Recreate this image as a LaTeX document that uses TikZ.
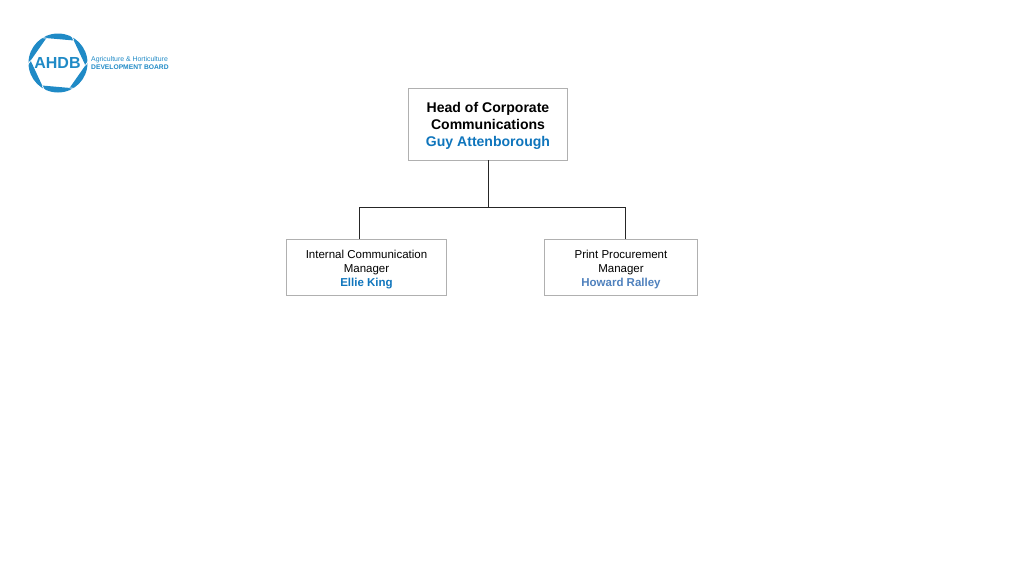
\documentclass[tikz,border=0pt]{standalone}
\usepackage{fontspec}
\usetikzlibrary{calc}
\setmainfont{Liberation Sans}
\definecolor{ahdbblue}{HTML}{0F75BC}
\definecolor{logoblue}{HTML}{1F8AC6}
\definecolor{ralleyblue}{HTML}{4F81BD}
\definecolor{boxgrey}{HTML}{B0B0B0}
\newcommand{\dropline}[1]{\rule{0pt}{#1}}
\tikzset{
  headbox/.style={draw=boxgrey,line width=0.9pt,minimum width=159.5pt,minimum height=72pt,inner sep=0,align=center,font=\fontsize{14.05}{17.1}\selectfont\bfseries},
  staffbox/.style={draw=boxgrey,line width=0.9pt,minimum height=56.5pt,inner sep=0,align=center,font=\fontsize{11.5}{13.8}\selectfont},
  link/.style={draw=black!85,line width=1pt}
}
\begin{document}
\begin{tikzpicture}[x=1pt,y=-1pt]
  \useasboundingbox (0,0) rectangle (1024,576);

  % logo
  \begin{scope}[shift={(58,63)}]
    \fill[logoblue,even odd rule] (0,0) circle (29.5)
      (5:27.5) -- (65:27.5) -- (125:27.5) -- (185:27.5) -- (245:27.5) -- (305:27.5) -- cycle;
    \foreach \a in {5,65,125,185,245,305}
      \draw[white,line width=0.8pt] (\a:27.5) -- ($(\a:27.5)!-0.6!(\a+60:27.5)$);
  \end{scope}
  \node[text=logoblue,inner sep=0,font=\fontsize{16}{16}\selectfont\bfseries] (logoname) at (57.5,63) {AHDB};
  \node[text=logoblue,anchor=west,inner sep=0,font=\fontsize{6.9}{7.4}\selectfont,align=left] (logotext) at (91,63)
    {Agriculture \& Horticulture\\{\fontsize{6.7}{7.4}\selectfont\textbf{DEVELOPMENT BOARD}}};

  % boxes
  \node[headbox] (head) at (488,124) {\dropline{14pt}Head of Corporate\\Communications\\\textcolor{ahdbblue}{Guy Attenborough}};
  \node[staffbox,minimum width=160.5pt] (ellie) at (366.5,267.5) {\dropline{12pt}Internal Communication\\Manager\\\textcolor{ahdbblue}{\textbf{Ellie King}}};
  \node[staffbox,minimum width=153.5pt] (howard) at (621,267.5) {\dropline{12pt}Print Procurement\\Manager\\\textcolor{ralleyblue}{\textbf{Howard Ralley}}};

  % connectors
  \coordinate (joint) at (488,207);
  \coordinate (leftdrop) at (359,239);
  \coordinate (rightdrop) at (625,239);
  \draw[link] (head.south) -- (joint);
  \draw[link] (leftdrop) |- (joint);
  \draw[link] (rightdrop) |- (joint);
\end{tikzpicture}
\end{document}
